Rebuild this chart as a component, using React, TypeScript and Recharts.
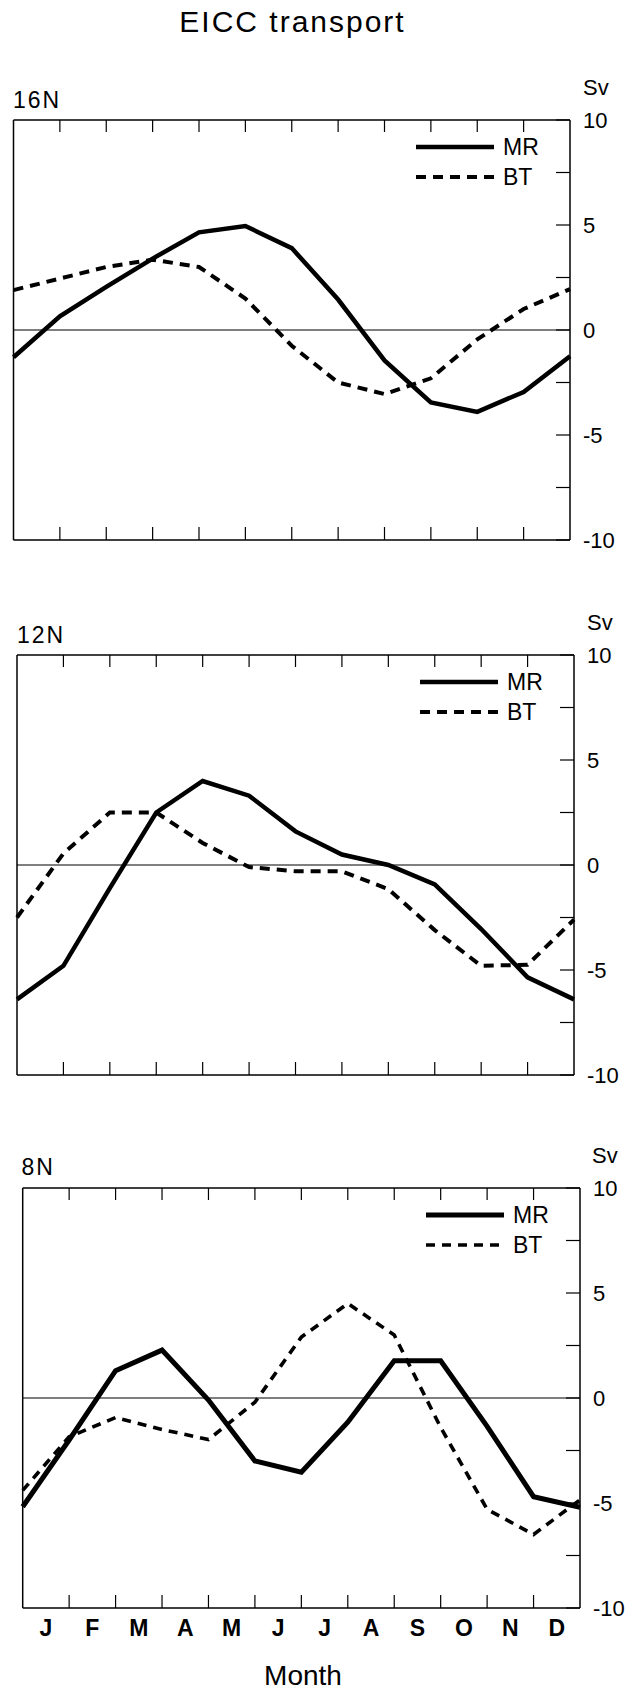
import React from "react";
import {
  LineChart,
  Line,
  XAxis,
  YAxis,
  ReferenceLine,
  Legend,
} from "recharts";

const FONT = "'Liberation Sans', Arial, Helvetica, sans-serif";

// month boundaries: values are read at the tick marks (Jan start .. Dec end)
const MONTH_EDGES = [0, 1, 2, 3, 4, 5, 6, 7, 8, 9, 10, 11, 12];
const INNER_EDGES = [1, 2, 3, 4, 5, 6, 7, 8, 9, 10, 11];
const MONTH_CENTERS = [0.5, 1.5, 2.5, 3.5, 4.5, 5.5, 6.5, 7.5, 8.5, 9.5, 10.5, 11.5];
const MONTHS = ["J", "F", "M", "A", "M", "J", "J", "A", "S", "O", "N", "D"];
const Y_TICKS = [-10, -7.5, -5, -2.5, 0, 2.5, 5, 7.5, 10];
const SERIES_ORDER = ["MR", "BT"];

const MR_16N = [-1.3, 0.65, 2.05, 3.4, 4.65, 4.95, 3.9, 1.45, -1.45, -3.45, -3.9, -2.95, -1.25];
const BT_16N = [1.9, 2.45, 3.0, 3.35, 3.0, 1.5, -0.75, -2.5, -3.05, -2.3, -0.45, 1.0, 1.95];

const MR_12N = [-6.4, -4.8, -1.1, 2.5, 4.0, 3.3, 1.6, 0.5, 0.0, -0.92, -3.05, -5.35, -6.4];
const BT_12N = [-2.5, 0.55, 2.5, 2.5, 1.05, -0.1, -0.3, -0.3, -1.15, -3.1, -4.8, -4.75, -2.6];

const MR_8N = [-5.18, -2.0, 1.3, 2.28, -0.1, -3.0, -3.53, -1.15, 1.77, 1.77, -1.35, -4.7, -5.2];
const BT_8N = [-4.4, -1.85, -0.93, -1.5, -1.98, -0.2, 2.9, 4.5, 3.0, -1.4, -5.3, -6.5, -4.85];

const PLOT_H = 420;

type LineStyle = { width: number; dash?: string };

type PanelProps = {
  top: number;
  left: number;
  right: number;
  mr: number[];
  bt: number[];
  styles: Record<string, LineStyle>;
  showMonths?: boolean;
};

const noLabel = () => "";

function LegendBox({ payload, styles }: { payload?: any[]; styles: Record<string, LineStyle> }) {
  const items = [...(payload ?? [])].sort(
    (a, b) => SERIES_ORDER.indexOf(a.dataKey) - SERIES_ORDER.indexOf(b.dataKey)
  );
  return (
    <div style={{ fontFamily: FONT, color: "#000" }}>
      {items.map((entry) => {
        const s = styles[entry.dataKey] ?? { width: 4 };
        return (
          <div
            key={entry.dataKey}
            style={{ display: "flex", alignItems: "center", height: 30 }}
          >
            <svg width={78} height={10}>
              <line
                x1={0}
                x2={78}
                y1={5}
                y2={5}
                stroke="#000"
                strokeWidth={s.width}
                strokeDasharray={s.dash}
              />
            </svg>
            <span style={{ marginLeft: 9, fontSize: 23, lineHeight: 1 }}>{entry.value}</span>
          </div>
        );
      })}
    </div>
  );
}

function Panel({ top, left, right, mr, bt, styles, showMonths }: PanelProps) {
  const data = MONTH_EDGES.map((x, i) => ({ x, MR: mr[i], BT: bt[i] }));
  const mt = 20;
  const mb = showMonths ? 0 : 16;
  const monthsH = showMonths ? 60 : 0;
  const h = mt + PLOT_H + 1 + mb + monthsH;
  const frame = { stroke: "#000", strokeWidth: 1.5 };
  const tickLine = { stroke: "#000", strokeWidth: 1.2 };
  const hidden = { fontSize: 1, fill: "none" };

  return (
    <div style={{ position: "absolute", top: top - mt, left: 0 }}>
      <LineChart
        width={634}
        height={h}
        data={data}
        margin={{ top: mt - 1, right: 0, bottom: mb, left: left - 1 }}
      >
        <XAxis
          xAxisId="a_frame"
          dataKey="x"
          type="number"
          domain={[0, 12]}
          ticks={INNER_EDGES}
          interval={0}
          orientation="bottom"
          height={1}
          tickSize={-13}
          tickFormatter={noLabel}
          tick={hidden}
          axisLine={frame}
          tickLine={tickLine}
        />
        {showMonths && (
          <XAxis
            xAxisId="b_months"
            dataKey="x"
            type="number"
            domain={[0, 12]}
            ticks={MONTH_CENTERS}
            interval={0}
            orientation="bottom"
            height={monthsH}
            tickSize={0}
            tickMargin={11}
            axisLine={false}
            tickLine={false}
            tickFormatter={(v: number) => MONTHS[Math.floor(v)]}
            tick={{ fill: "#000", fontSize: 23, fontWeight: 700, fontFamily: FONT }}
          />
        )}
        <XAxis
          xAxisId="c_top"
          dataKey="x"
          type="number"
          domain={[0, 12]}
          ticks={INNER_EDGES}
          interval={0}
          orientation="top"
          height={1}
          tickSize={-12}
          tickFormatter={noLabel}
          tick={hidden}
          axisLine={frame}
          tickLine={tickLine}
        />
        <YAxis
          yAxisId="left"
          type="number"
          domain={[-10, 10]}
          ticks={Y_TICKS}
          interval={0}
          orientation="left"
          width={1}
          tickSize={-14}
          tickFormatter={noLabel}
          tick={hidden}
          axisLine={frame}
          tickLine={tickLine}
        />
        <YAxis
          yAxisId="right"
          type="number"
          domain={[-10, 10]}
          ticks={Y_TICKS}
          interval={0}
          orientation="right"
          width={634 - right}
          tickSize={-14}
          tickMargin={27}
          axisLine={frame}
          tickLine={tickLine}
          tickFormatter={(v: number) => (v % 5 === 0 ? String(v) : "")}
          tick={{ fill: "#000", fontSize: 22, fontFamily: FONT }}
        />
        <ReferenceLine xAxisId="a_frame" yAxisId="right" y={0} stroke="#000" strokeWidth={1.2} />
        <Line
          xAxisId="a_frame"
          yAxisId="right"
          type="linear"
          dataKey="MR"
          name="MR"
          stroke="#000"
          strokeWidth={styles.MR.width}
          dot={false}
          isAnimationActive={false}
        />
        <Line
          xAxisId="a_frame"
          yAxisId="right"
          type="linear"
          dataKey="BT"
          name="BT"
          stroke="#000"
          strokeWidth={styles.BT.width}
          strokeDasharray={styles.BT.dash}
          dot={false}
          isAnimationActive={false}
        />
        <Legend
          layout="horizontal"
          align="center"
          verticalAlign="middle"
          wrapperStyle={{ left: right - 154, top: mt + 27 - 15, width: 150 }}
          content={(props: any) => <LegendBox payload={props.payload} styles={styles} />}
        />
      </LineChart>
    </div>
  );
}

const STYLE_A: Record<string, LineStyle> = {
  MR: { width: 4.5 },
  BT: { width: 4, dash: "10 7" },
};
const STYLE_B: Record<string, LineStyle> = {
  MR: { width: 5 },
  BT: { width: 3.6, dash: "9 7" },
};

export default function App() {
  const text = { fontFamily: FONT, fill: "#000" };
  return (
    <div
      style={{
        position: "absolute",
        left: 0,
        top: 0,
        width: 634,
        height: 1690,
        background: "#fff",
      }}
    >
      <Panel top={120} left={13.5} right={570} mr={MR_16N} bt={BT_16N} styles={STYLE_A} />
      <Panel top={655} left={17} right={574} mr={MR_12N} bt={BT_12N} styles={STYLE_A} />
      <Panel top={1188} left={22.7} right={580} mr={MR_8N} bt={BT_8N} styles={STYLE_B} showMonths />
      <svg
        width={634}
        height={1690}
        style={{ position: "absolute", left: 0, top: 0, pointerEvents: "none" }}
      >
        <text {...text} x={292.5} y={32} fontSize={30} letterSpacing={2} textAnchor="middle">
          EICC transport
        </text>
        <text {...text} x={13} y={108} fontSize={23} letterSpacing={2}>
          16N
        </text>
        <text {...text} x={583} y={95} fontSize={22}>
          Sv
        </text>
        <text {...text} x={17} y={643} fontSize={23} letterSpacing={2}>
          12N
        </text>
        <text {...text} x={587} y={630} fontSize={22}>
          Sv
        </text>
        <text {...text} x={21.5} y={1175} fontSize={23} letterSpacing={2}>
          8N
        </text>
        <text {...text} x={592} y={1163} fontSize={22}>
          Sv
        </text>
        <text {...text} x={303} y={1685} fontSize={28} textAnchor="middle">
          Month
        </text>
      </svg>
    </div>
  );
}
